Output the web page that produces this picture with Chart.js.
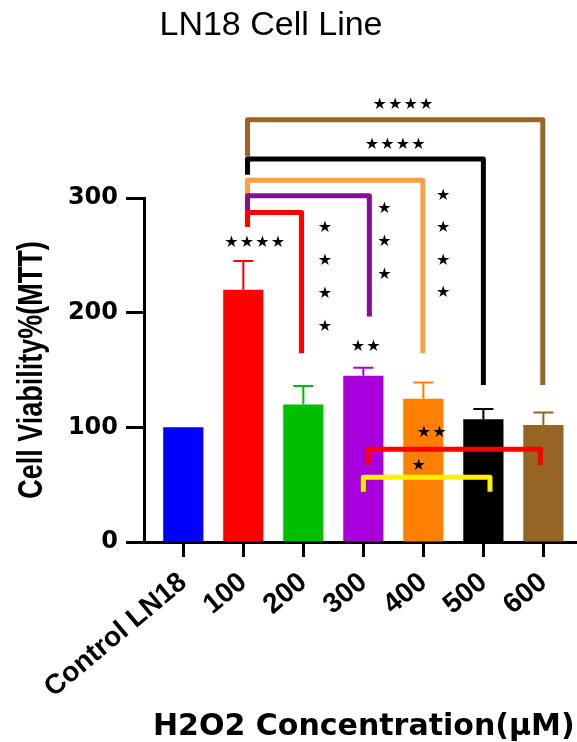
<!DOCTYPE html>
<html><head><meta charset="utf-8">
<script src="https://cdn.jsdelivr.net/npm/chart.js@4.4.1/dist/chart.umd.min.js"></script>
<style>html,body{margin:0;padding:0;background:#fff}canvas{display:block}</style>
</head><body>
<canvas id="c" width="577" height="742" style="width:577px;height:742px"></canvas>
<script>
const categories = ['Control LN18','100','200','300','400','500','600'];
const viability = [100, 220, 120, 145, 125, 107, 102];
const sem = [0, 25, 16, 7, 14, 9, 11];
const barColors = ['#0000FF','#FF0000','#00BF00','#A800DC','#FF8000','#000000','#966423'];
const yTickValues = [0, 100, 200, 300];
const chartTitle = 'LN18 Cell Line';
const xTitle = 'H2O2 Concentration(µM)';
const yTitle = 'Cell Viability%(MTT)';
// significance brackets (x in category index units, y in viability units)
const bracketX1 = [1.07, 1.07, 1.07, 1.07, 1.07, 3.08, 3.0];
const bracketX2 = [5.99, 5.0, 3.99, 3.1, 1.97, 5.95, 5.11];
const bracketTop = [368.3, 334, 315.4, 302, 287.4, 80.9, 56.5];
const bracketLeftEnd = [336.3, 320.3, 302, 286.9, 274.7, 67.2, 43.9];
const bracketRightEnd = [137, 137, 164.7, 196.6, 164.7, 67.2, 43.9];
const bracketColors = ['#9A6424','#000000','#FFA040','#80108F','#FF0000','#FF0000','#FFF000'];
// significance stars
const starText = ['****','****','****','****','***','****','**','**','*'];
const starX = [3.66, 3.53, 1.19, 2.36, 3.35, 4.33, 3.04, 4.14, 3.92];
const starY = [381.4, 346.5, 260.7, 273.8, 290.6, 302, 170.5, 94.9, 66.3];
const starYEnd = [null, null, null, 187.7, 233.0, 217.3, null, null, null];

const annot = {
  id: 'annot',
  afterDatasetsDraw(chart) {
    const { ctx, scales: { x, y } } = chart;
    const meta = chart.getDatasetMeta(0);
    ctx.save();
    // error bars
    meta.data.forEach((bar, i) => {
      if (!sem[i]) return;
      const t = y.getPixelForValue(viability[i]);
      const e = y.getPixelForValue(viability[i] + sem[i]);
      ctx.strokeStyle = barColors[i];
      ctx.lineWidth = 2;
      ctx.beginPath();
      ctx.moveTo(bar.x, t); ctx.lineTo(bar.x, e);
      ctx.moveTo(bar.x - 10, e); ctx.lineTo(bar.x + 10, e);
      ctx.stroke();
    });
    // brackets
    ctx.lineWidth = 5; ctx.lineJoin = 'round'; ctx.lineCap = 'butt';
    for (let i = 0; i < bracketX1.length; i++) {
      const x1 = x.getPixelForValue(bracketX1[i]);
      const x2 = x.getPixelForValue(bracketX2[i]);
      ctx.strokeStyle = bracketColors[i];
      ctx.beginPath();
      ctx.moveTo(x1, y.getPixelForValue(bracketLeftEnd[i]));
      ctx.lineTo(x1, y.getPixelForValue(bracketTop[i]));
      ctx.lineTo(x2, y.getPixelForValue(bracketTop[i]));
      ctx.lineTo(x2, y.getPixelForValue(bracketRightEnd[i]));
      ctx.stroke();
    }
    // stars
    ctx.fillStyle = '#000';
    ctx.font = '16px "DejaVu Sans"';
    ctx.textAlign = 'center'; ctx.textBaseline = 'middle';
    for (let i = 0; i < starText.length; i++) {
      const n = starText[i].length;
      const px = x.getPixelForValue(starX[i]);
      const py = y.getPixelForValue(starY[i]);
      for (let k = 0; k < n; k++) {
        if (starYEnd[i] !== null) {
          const pe = y.getPixelForValue(starYEnd[i]);
          ctx.fillText('\u2605', px, n > 1 ? py + (pe - py) * k / (n - 1) : py);
        } else {
          ctx.fillText('\u2605', px + (k - (n - 1) / 2) * 15.5, py);
        }
      }
    }
    // titles
    ctx.textBaseline = 'alphabetic';
    ctx.font = '34px "Liberation Sans"';
    ctx.textAlign = 'center';
    ctx.fillText(chartTitle, 271, 35);
    ctx.font = 'bold 30px "DejaVu Sans"';
    ctx.textAlign = 'left';
    ctx.fillText(xTitle, 153, 735);
    ctx.save();
    ctx.translate(42, 370);
    ctx.rotate(-Math.PI / 2);
    ctx.scale(1, 1.3);
    ctx.font = 'bold 27px "Liberation Sans"';
    ctx.textAlign = 'center';
    ctx.fillText(yTitle, 0, 0);
    ctx.restore();
    ctx.restore();
  }
};

new Chart(document.getElementById('c'), {
  type: 'bar',
  data: {
    datasets: [{
      data: categories.map((c, i) => ({ x: i, y: viability[i] })),
      backgroundColor: barColors,
      borderWidth: 0,
      barPercentage: 0.67,
      categoryPercentage: 1
    }]
  },
  options: {
    responsive: false, animation: false, devicePixelRatio: 1,
    layout: { padding: { top: 198, left: 0, right: 0, bottom: 0 } },
    plugins: { legend: { display: false }, tooltip: { enabled: false }, title: { display: false } },
    scales: {
      x: {
        type: 'linear', min: -0.655, max: 6.56, offset: false, z: 1,
        grid: { display: true, drawOnChartArea: false, drawTicks: true, tickLength: 15, tickWidth: 3, tickColor: '#000', offset: false },
        border: { display: true, color: '#000', width: 3 },
        afterBuildTicks: s => { s.ticks = categories.map((c, i) => ({ value: i })); },
        ticks: {
          callback: v => categories[v], autoSkip: false, maxRotation: 40, minRotation: 40,
          font: { family: 'Liberation Sans', weight: 'bold', size: 28 }, color: '#000', padding: 9
        },
        afterFit: s => { s.height = 200; s.paddingLeft = 0; s.paddingRight = 0; }
      },
      y: {
        min: 0, max: 300, z: 1,
        afterBuildTicks: s => { s.ticks = yTickValues.map(v => ({ value: v })); },
        grid: { drawOnChartArea: false, tickLength: 18, tickWidth: 3, tickColor: '#000' },
        border: { color: '#000', width: 3 },
        ticks: { font: { family: 'DejaVu Sans', weight: 'bold', size: 24 }, color: '#000', padding: 8 },
        afterFit: s => { s.width = 144; s.paddingTop = 0; s.paddingBottom = 0; }
      }
    }
  },
  plugins: [annot]
});
</script>
</body></html>
